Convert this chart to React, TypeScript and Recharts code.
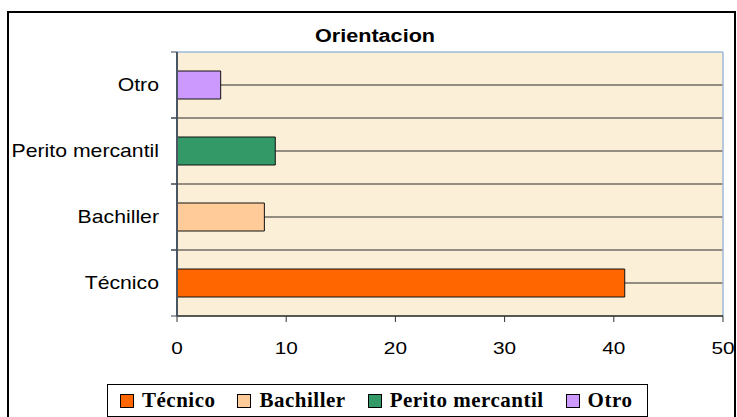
import React from "react";
import { BarChart, Bar, XAxis, YAxis, CartesianGrid, Cell } from "recharts";

const categories = ["Técnico", "Bachiller", "Perito mercantil", "Otro"];
const values = [41, 8, 9, 4];
const colors = ["#FF6600", "#FFCC99", "#339966", "#CC99FF"];
const xTicks = [0, 10, 20, 30, 40, 50];
const title = "Orientacion";

const data = categories.map((name, i) => ({ name, value: values[i] }));

const W = 737;
const H = 417;
const PLOT_TOP = 52;
const PLOT_BOTTOM = 316;
const Y_AXIS_W = 177;
const BAND_HALF = (PLOT_BOTTOM - PLOT_TOP) / (categories.length * 2);

const YTick = (props: any) => {
  const { y, payload } = props;
  return (
    <g>
      <text
        transform={`translate(${Y_AXIS_W - 18},${y}) scale(1.18,1)`}
        textAnchor="end"
        dominantBaseline="central"
        fontFamily="Arial, 'Liberation Sans', sans-serif"
        fontSize={18}
        fill="#000"
      >
        {payload.value}
      </text>
      <line x1={Y_AXIS_W - 6} x2={Y_AXIS_W} y1={y - BAND_HALF} y2={y - BAND_HALF} stroke="#3c4650" strokeWidth={1} />
      <line x1={Y_AXIS_W - 6} x2={Y_AXIS_W} y1={y + BAND_HALF} y2={y + BAND_HALF} stroke="#3c4650" strokeWidth={1} />
    </g>
  );
};

const XTick = (props: any) => {
  const { x, payload } = props;
  return (
    <text
      transform={`translate(${x},${PLOT_BOTTOM + 38}) scale(1.3,1)`}
      textAnchor="middle"
      fontFamily="Arial, 'Liberation Sans', sans-serif"
      fontSize={16}
      fill="#000"
    >
      {payload.value}
    </text>
  );
};

export default function App() {
  return (
    <div style={{ position: "absolute", left: 0, top: 0, width: W, height: H, overflow: "hidden", background: "#fff" }}>
      <div
        style={{
          position: "absolute",
          left: 7,
          top: 11,
          width: 729,
          height: 440,
          border: "2px solid #000",
          boxSizing: "border-box",
        }}
      />
      <div
        style={{
          position: "absolute",
          left: 0,
          top: 27,
          width: 750,
          textAlign: "center",
          fontFamily: "Arial, 'Liberation Sans', sans-serif",
          fontWeight: "bold",
          fontSize: 18,
          lineHeight: "18px",
        }}
      >
        <span style={{ display: "inline-block", transform: "scale(1.2,1)" }}>{title}</span>
      </div>
      <div style={{ position: "absolute", left: 0, top: 0 }}>
        <BarChart
          width={W}
          height={H}
          data={data}
          layout="vertical"
          margin={{ top: PLOT_TOP, right: 14, left: 0, bottom: 0 }}
        >
          <CartesianGrid
            vertical={false}
            fill="#FCEFD7"
            stroke="#2a2a2a"
            strokeWidth={1}
            horizontalCoordinatesGenerator={({ offset }: any) => {
              const res: number[] = [];
              const n = categories.length * 2;
              for (let i = 1; i < n; i++) res.push(offset.top + (i * offset.height) / n);
              return res;
            }}
          />
          <CartesianGrid
            stroke="#9DBAD8"
            strokeWidth={1.5}
            fill="none"
            horizontalCoordinatesGenerator={({ offset }: any) => [offset.top]}
            verticalCoordinatesGenerator={({ offset }: any) => [offset.left + offset.width]}
          />
          <XAxis
            type="number"
            domain={[0, 50]}
            ticks={xTicks}
            height={H - PLOT_BOTTOM}
            axisLine={{ stroke: "#222", strokeWidth: 1.5 }}
            tickLine={{ stroke: "#333" }}
            tickSize={6}
            tick={<XTick />}
            interval={0}
          />
          <YAxis
            type="category"
            dataKey="name"
            reversed
            width={Y_AXIS_W}
            axisLine={{ stroke: "#4a5663", strokeWidth: 2 }}
            tickLine={false}
            tick={<YTick />}
            interval={0}
          />
          <Bar dataKey="value" barSize={28} stroke="#111" strokeWidth={1} isAnimationActive={false}>
            {data.map((d, i) => (
              <Cell key={d.name} fill={colors[i]} />
            ))}
          </Bar>
        </BarChart>
      </div>
      <div
        style={{
          position: "absolute",
          left: 107,
          top: 384,
          width: 541,
          height: 33,
          border: "1px solid #000",
          boxSizing: "border-box",
          display: "flex",
          alignItems: "center",
          paddingLeft: 12,
          background: "#fff",
          fontFamily: "'Liberation Serif', 'Times New Roman', serif",
          fontWeight: "bold",
          fontSize: 21,
          letterSpacing: "0.5px",
          whiteSpace: "nowrap",
        }}
      >
        {categories.map((c, i) => (
          <div key={c} style={{ display: "flex", alignItems: "center", marginRight: 22 }}>
            <span
              style={{
                display: "inline-block",
                width: 12,
                height: 12,
                background: colors[i],
                border: "1px solid #000",
                marginRight: 8,
              }}
            />
            <span>{c}</span>
          </div>
        ))}
      </div>
    </div>
  );
}
